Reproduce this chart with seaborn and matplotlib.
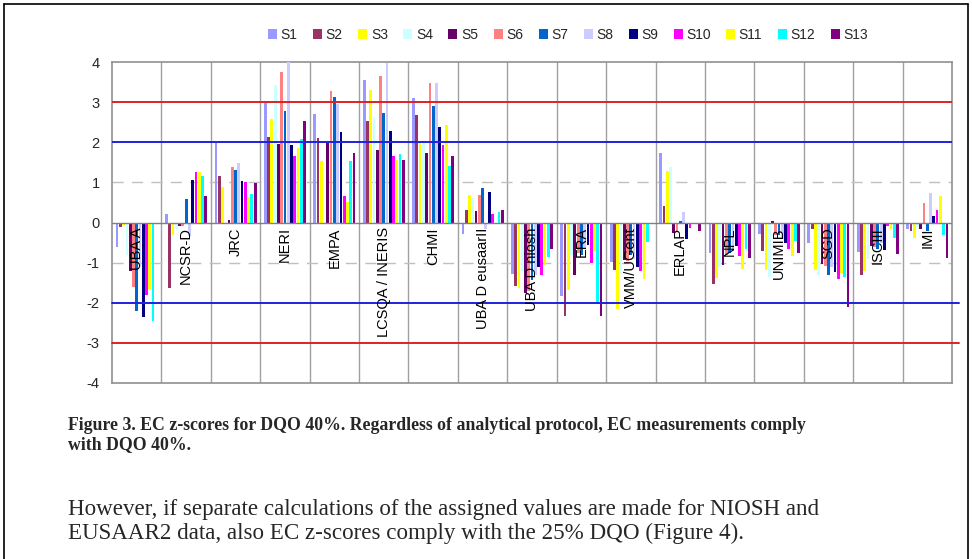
import matplotlib
matplotlib.use("Agg")
import matplotlib.pyplot as plt
import seaborn as sns
import pandas as pd
from matplotlib.patches import Patch
from matplotlib.lines import Line2D

labs = ["UBA A", "NCSR-D", "JRC", "NERI", "EMPA", "LCSQA / INERIS", "CHMI",
        "UBA D eusaarII", "UBA D niosh", "ERA", "VMM/UGent", "ERLAP", "NPL",
        "UNIMIB", "SGD", "ISCIII", "IMI"]
series_names = ["S1", "S2", "S3", "S4", "S5", "S6", "S7", "S8", "S9", "S10", "S11", "S12", "S13"]

S1 = [-0.6, 0.2, 1.98, 2.98, 2.7, 3.56, 3.1, -0.29, -1.29, -1.83, -0.98, 1.73, -0.75, -0.28, -0.5, -0.73, -0.17]
S2 = [-0.1, -1.62, 1.15, 2.12, 2.1, 2.54, 2.69, 0.31, -1.58, -2.32, -1.19, 0.4, -1.54, -0.72, -0.17, -1.32, -0.21]
S3 = [-0.05, -0.3, 0.88, 2.58, 1.54, 3.31, 2.03, 0.69, -1.64, -1.67, -2.15, 1.29, -1.38, -1.19, -1.19, -1.21, -0.38]
S4 = [-0.82, -0.17, 0.0, 3.43, 0.0, 2.62, 1.98, 0.62, -1.2, -0.8, -1.28, 1.38, -1.1, -1.36, -1.32, -0.9, -0.1]
S5 = [-1.2, -0.08, 0.07, 1.96, 1.98, 1.81, 1.72, 0.28, -1.75, -1.32, -0.93, -0.25, -1.07, 0.03, -1.03, -0.58, -0.17]
S6 = [-1.6, -0.08, 1.38, 3.75, 3.27, 3.64, 3.48, 0.69, -1.7, -0.76, -0.97, -0.21, -0.8, -0.3, -1.08, -0.6, 0.48]
S7 = [-2.2, 0.58, 1.3, 2.79, 3.13, 2.73, 2.9, 0.87, -1.43, -0.8, -0.8, 0.04, -0.75, -0.3, -1.32, -0.65, -0.2]
S8 = [-1.1, -0.33, 1.48, 4.0, 2.96, 3.98, 3.48, -0.15, -1.3, -0.6, -0.9, 0.27, -0.7, -0.4, -1.1, -0.5, 0.73]
S9 = [-2.35, 1.06, 1.03, 1.93, 2.25, 2.29, 2.39, 0.77, -1.12, -0.55, -1.1, -0.4, -0.58, -0.5, -1.23, -0.69, 0.17]
S10 = [-1.8, 1.27, 1.0, 1.65, 0.67, 1.65, 1.92, 0.2, -1.3, -1.0, -1.22, -0.13, -0.83, -0.67, -1.4, -0.08, 0.32]
S11 = [-1.65, 1.25, 0.64, 1.86, 0.52, 1.56, 2.42, 0.0, -1.07, -0.7, -1.42, -0.04, -1.15, -0.83, -1.25, -0.17, 0.67]
S12 = [-2.45, 1.17, 0.72, 2.08, 1.54, 1.7, 1.4, 0.25, -0.87, -2.02, -0.48, -0.02, -0.65, -0.46, -1.36, -0.38, -0.31]
S13 = [0.0, 0.67, 0.98, 2.52, 1.72, 1.57, 1.65, 0.31, -0.67, -2.33, 0.0, -0.22, -0.88, -0.75, -2.1, -0.78, -0.88]

yticks = [-4, -3, -2, -1, 0, 1, 2, 3, 4]

colors = ["#9999FF", "#993366", "#FFFF00", "#CCFFFF", "#660066", "#FF8080", "#0066CC",
          "#CCCCFF", "#000080", "#FF00FF", "#FFFF00", "#00FFFF", "#800080"]

all_series = [S1, S2, S3, S4, S5, S6, S7, S8, S9, S10, S11, S12, S13]
rows = []
for name, vals in zip(series_names, all_series):
    for lab, v in zip(labs, vals):
        rows.append({"lab": lab, "series": name, "z": v})
df = pd.DataFrame(rows)

sns.set_style("white")
plt.rcParams["font.family"] = ["Liberation Sans", "DejaVu Sans"]

fig = plt.figure(figsize=(9.72, 5.59), dpi=100)
ax = fig.add_axes([112/972, 1-383/559, 840/972, 321/559])

sns.barplot(data=df, x="lab", y="z", hue="series", order=labs, hue_order=series_names,
            palette=colors, width=0.86, gap=0.15, ax=ax, legend=False,
            errorbar=None, saturation=1, linewidth=0, zorder=3)

ax.set_xlim(-0.5, len(labs) - 0.5)
ax.set_ylim(-4, 4)
ax.set_yticks(yticks)
ax.set_yticklabels([str(t) for t in yticks], fontsize=10.5)
ax.set_xticks([])
ax.set_xlabel("")
ax.set_ylabel("")
ax.tick_params(axis="y", length=3, color="#808080", pad=6)

for i in range(len(labs) - 1):
    ax.axvline(i + 0.5, color="#A0A0A0", lw=1.0, zorder=1)
for y in [1, -1]:
    ax.axhline(y, color="#C0C0C0", lw=1.0, dashes=(8, 6), zorder=1)
ax.axhline(0, color="#808080", lw=1.0, zorder=4)
ax.axhline(3, color="#E02020", lw=1.4, zorder=5)
ax.axhline(2, color="#2020E0", lw=1.4, zorder=5)
ax.axhline(-3, color="#E02020", lw=1.4, zorder=5, xmax=1.008, clip_on=False)
ax.axhline(-2, color="#2020E0", lw=1.4, zorder=5, xmax=1.008, clip_on=False)

for s in ax.spines.values():
    s.set_color("#909090")
    s.set_linewidth(1.2)

for i, lab in enumerate(labs):
    ax.text(i, -0.12, lab, rotation=90, ha="center", va="top", fontsize=10.5,
            color="black", zorder=6)

handles = [Patch(facecolor=c, edgecolor="none") for c in colors]
fig.legend(handles, series_names, loc="center", bbox_to_anchor=(568/972, 1-35/559),
           ncol=13, frameon=False, fontsize=10, handlelength=0.65, handleheight=0.8,
           handletextpad=0.25, columnspacing=1.12)

serif = ["Liberation Serif", "DejaVu Serif"]
fig.text(68/972, 1-425/559, "Figure 3. EC z-scores for DQO 40%. Regardless of analytical protocol, EC measurements comply",
         family=serif, weight="bold", fontsize=12.8, va="center", ha="left")
fig.text(68/972, 1-445/559, "with DQO 40%.",
         family=serif, weight="bold", fontsize=12.8, va="center", ha="left")
fig.text(68/972, 1-510/559, "However, if separate calculations of the assigned values are made for NIOSH and",
         family=serif, fontsize=16.6, va="center", ha="left")
fig.text(68/972, 1-533/559, "EUSAAR2 data, also EC z-scores comply with the 25% DQO (Figure 4).",
         family=serif, fontsize=16.6, va="center", ha="left")

# page frame
fig.add_artist(Line2D([4/972, 4/972], [0, 1-4/559], color="black", lw=1.2, transform=fig.transFigure))
fig.add_artist(Line2D([4/972, 968/972], [1-4/559, 1-4/559], color="black", lw=1.2, transform=fig.transFigure))
fig.add_artist(Line2D([968/972, 968/972], [0, 1-4/559], color="black", lw=1.2, transform=fig.transFigure))

fig.savefig("out.png", dpi=100)
